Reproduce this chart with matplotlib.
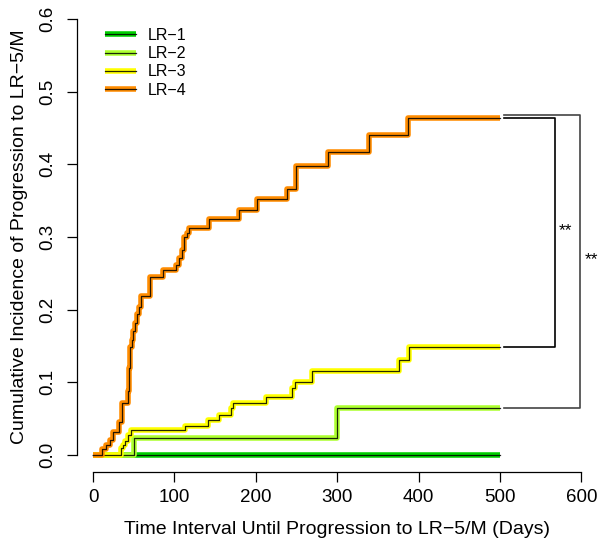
import matplotlib
matplotlib.use("Agg")
import matplotlib.pyplot as plt

plt.rcParams['font.family'] = ['Liberation Sans', 'DejaVu Sans']

# ---- data ----
groups = ["LR\u22121", "LR\u22122", "LR\u22123", "LR\u22124"]
colors = ["#00CD00", "#ADFF2F", "#FFFF00", "#FF8C00"]

lr1_days = [0, 500]
lr1_cif = [0.0, 0.0]

lr2_days = [0, 50.7, 299.3, 500]
lr2_cif = [0.0, 0.0238, 0.0645, 0.0645]

lr3_days = [0, 34, 36.5, 39.3, 42.6, 46.7, 113, 141.7, 155, 170, 172, 212,
            245, 248, 269, 376, 388, 500]
lr3_cif = [0.0, 0.009, 0.014, 0.019, 0.027, 0.034, 0.040, 0.048, 0.055, 0.064,
           0.072, 0.080, 0.092, 0.101, 0.115, 0.131, 0.148, 0.148]

lr4_days = [0, 10.5, 15.6, 21, 25, 31.5, 36, 42.6, 43.6, 44.3, 45.0, 46.0,
            47.5, 48.8, 51.5, 53.5, 56.5, 59.5, 70, 86.4, 101.6, 105.7, 109,
            111.8, 115, 118.3, 142.5, 179.4, 201, 238.7, 249.4, 288.3, 339,
            387.4, 500]
lr4_cif = [0.0, 0.008, 0.014, 0.021, 0.032, 0.046, 0.071, 0.088, 0.104, 0.120,
           0.134, 0.149, 0.158, 0.170, 0.181, 0.1935, 0.204, 0.219, 0.245,
           0.254, 0.261, 0.2705, 0.282, 0.300, 0.305, 0.312, 0.324, 0.337,
           0.352, 0.366, 0.398, 0.417, 0.440, 0.464, 0.464]

series_days = [lr1_days, lr2_days, lr3_days, lr4_days]
series_cif = [lr1_cif, lr2_cif, lr3_cif, lr4_cif]

x_ticks = [0, 100, 200, 300, 400, 500, 600]
y_ticks = [0.0, 0.1, 0.2, 0.3, 0.4, 0.5, 0.6]

# significance brackets: (upper series, lower series, bracket x, label x, label, colour)
brackets = [(3, 2, 568, 581, "**", "black"), (3, 1, 598, 612, "**", "#444444")]

# ---- figure ----
W, H = 600, 546
fig = plt.figure(figsize=(W / 100, H / 100), dpi=100)
ax = fig.add_axes([77 / W, (H - 472.4) / H, (598 - 77) / W, (472.4 - 1.4) / H])
ax.set_xlim(-19.7, 620.4)
ax.set_ylim(-0.024, 0.624)

handles = []
for d, c, col in zip(series_days, series_cif, colors):
    thick, = ax.plot(d, c, drawstyle="steps-post", color=col, lw=4.0,
                     solid_capstyle="butt", zorder=2)
    thin, = ax.plot(d, c, drawstyle="steps-post", color="black", lw=0.9,
                    alpha=0.85, zorder=2)
    handles.append((thick, thin))

# brackets
ends = [c[-1] for c in series_cif]
for hi, lo, xb, xt, lab, col in brackets:
    y_top = ends[hi] + (0.004 if xb > 590 else 0.0)
    y_bot = ends[lo]
    ax.plot([505, xb, xb, 505], [y_top, y_top, y_bot, y_bot], color=col,
            lw=1.2, clip_on=False, zorder=3)
    ax.text(xt, (y_top + y_bot) / 2 + 0.003, lab, ha="center", va="center",
            fontsize=12.5, clip_on=False)

# axes styling (R-like)
for s in ["top", "right"]:
    ax.spines[s].set_visible(False)
ax.spines["left"].set_bounds(0, 0.6)
ax.spines["bottom"].set_bounds(0, 600)
ax.spines["left"].set_linewidth(0.9)
ax.spines["bottom"].set_linewidth(0.9)
ax.set_xticks(x_ticks)
ax.set_xticklabels([str(v) for v in x_ticks])
ax.set_yticks(y_ticks)
ax.set_yticklabels([f"{v:.1f}" for v in y_ticks])
ax.tick_params(axis="both", direction="out", length=7, width=0.9,
               labelsize=13.5)
ax.tick_params(axis="x", pad=5)
ax.tick_params(axis="y", pad=8)
for lab in ax.get_yticklabels():
    lab.set_rotation(90)
    lab.set_va("center")

ax.set_xlabel("Time Interval Until Progression to LR\u22125/M (Days)",
              fontsize=14, labelpad=11)
ax.set_ylabel("Cumulative Incidence of Progression to LR\u22125/M",
              fontsize=14, labelpad=8)

leg = ax.legend(handles, groups, loc="upper left",
                bbox_to_anchor=(105 / W, 1 - 28 / H),
                bbox_transform=fig.transFigure, frameon=False, fontsize=11.5,
                borderaxespad=0, borderpad=0, handlelength=1.95,
                handletextpad=0.75, labelspacing=0.2)

fig.savefig("out.png", dpi=100)
